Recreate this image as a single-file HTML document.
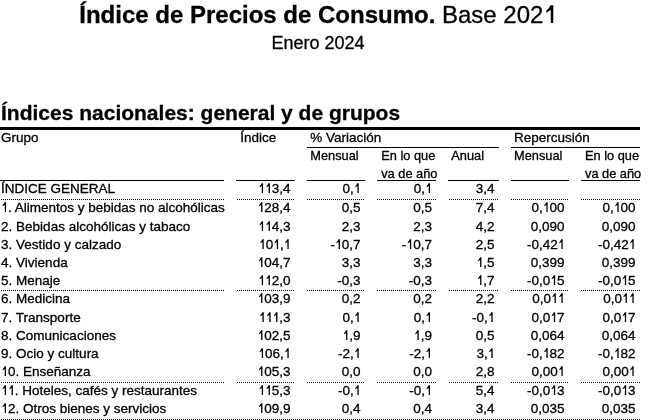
<!DOCTYPE html>
<html><head><meta charset="utf-8"><style>
html,body{margin:0;padding:0;background:#fff;width:651px;height:420px;overflow:hidden;position:relative}
#w{position:absolute;left:0;top:0;width:651px;height:420px;will-change:transform}
body{font-family:"Liberation Sans",sans-serif;color:#000}
#w div{-webkit-text-stroke:0.3px #000}
.t{position:absolute;font-size:13.5px;line-height:20px;white-space:nowrap}
.r{text-align:right}

.o{display:inline-block;position:relative;width:0.507em;color:transparent;-webkit-text-stroke:0 transparent!important;font-style:normal}
.o::after{content:"";position:absolute;left:0;right:0;bottom:6px;height:0.716em;background:#000;clip-path:polygon(72% 0%,72% 100%,53% 100%,53% 28%,22% 41%,22% 29%,40% 15%,52% 0%)}
.o2{width:0.556em}
.o2::after{height:0.74em;bottom:7px;clip-path:polygon(74% 0%,74% 100%,55% 100%,55% 27%,22% 42%,22% 30%,42% 15%,53% 0%)}
.s{font-size:12.8px}
.ln{position:absolute;background:#000}
.dt{position:absolute;height:1px;background:repeating-linear-gradient(to right,transparent 0,transparent 1px,#000 1px,#000 2px)}
.do{background:repeating-linear-gradient(to right,#000 0,#000 1px,transparent 1px,transparent 2px)}
.title{position:absolute;left:0;width:636px;top:0;text-align:center;font-size:24px;line-height:30px;white-space:nowrap}
.sub{position:absolute;left:0;width:636px;top:28px;text-align:center;font-size:18px;line-height:30px;white-space:nowrap}
.h2{position:absolute;left:1px;top:98px;font-size:21px;font-weight:bold;line-height:30px;white-space:nowrap}
</style></head>
<body><div id="w">
<div class="title"><b>Índice de Precios de Consumo.</b> Base 202<i class="o o2">1</i></div>
<div class="sub">Enero 2024</div>
<div class="h2">Índices nacionales: general y de grupos</div>
<div class="ln" style="left:0px;top:127px;width:640px;height:3px"></div>
<div class="t" style="left:1.1px;top:128px">Grupo</div>
<div class="t" style="left:240.2px;top:128px">Índice</div>
<div class="t" style="left:310.3px;top:128px">% Variación</div>
<div class="t" style="left:514px;top:128px">Repercusión</div>
<div class="ln" style="left:307px;top:147px;width:192px;height:1px"></div>
<div class="ln" style="left:511px;top:147px;width:129px;height:1px"></div>
<div class="t s" style="left:310.3px;top:146px">Mensual</div>
<div class="t s" style="left:381.2px;top:146px">En lo que</div>
<div class="t s" style="left:381.2px;top:164px">va de año</div>
<div class="t s" style="left:451.3px;top:146px">Anual</div>
<div class="t s" style="left:514px;top:146px">Mensual</div>
<div class="t s" style="left:585px;top:146px">En lo que</div>
<div class="t s" style="left:585px;top:164px">va de año</div>
<div class="ln" style="left:0px;top:180px;width:224px;height:1px"></div>
<div class="ln" style="left:236px;top:180px;width:59px;height:1px"></div>
<div class="ln" style="left:307px;top:180px;width:58px;height:1px"></div>
<div class="ln" style="left:377px;top:180px;width:59px;height:1px"></div>
<div class="ln" style="left:448px;top:180px;width:51px;height:1px"></div>
<div class="ln" style="left:511px;top:180px;width:58px;height:1px"></div>
<div class="ln" style="left:581px;top:180px;width:59px;height:1px"></div>
<div class="t" style="left:1.1px;top:179px">ÍNDICE GENERAL</div>
<div class="t r" style="right:360.4px;top:179px"><i class="o">1</i><i class="o">1</i>3,4</div>
<div class="t r" style="right:290.4px;top:179px">0,<i class="o">1</i></div>
<div class="t r" style="right:219.1px;top:179px">0,<i class="o">1</i></div>
<div class="t r" style="right:156.4px;top:179px">3,4</div>
<div class="dt" style="left:0px;top:199px;width:224px"></div>
<div class="dt" style="left:236px;top:199px;width:59px"></div>
<div class="dt do" style="left:307px;top:199px;width:58px"></div>
<div class="dt do" style="left:377px;top:199px;width:59px"></div>
<div class="dt" style="left:448px;top:199px;width:51px"></div>
<div class="dt do" style="left:511px;top:199px;width:58px"></div>
<div class="dt do" style="left:581px;top:199px;width:59px"></div>
<div class="t" style="left:1.1px;top:198px"><i class="o">1</i>. Alimentos y bebidas no alcohólicas</div>
<div class="t r" style="right:360.4px;top:198px"><i class="o">1</i>28,4</div>
<div class="t r" style="right:290.4px;top:198px">0,5</div>
<div class="t r" style="right:219.1px;top:198px">0,5</div>
<div class="t r" style="right:156.4px;top:198px">7,4</div>
<div class="t r" style="right:86.4px;top:198px">0,<i class="o">1</i>00</div>
<div class="t r" style="right:15.4px;top:198px">0,<i class="o">1</i>00</div>
<div class="t" style="left:1.1px;top:217px">2. Bebidas alcohólicas y tabaco</div>
<div class="t r" style="right:360.4px;top:217px"><i class="o">1</i><i class="o">1</i>4,3</div>
<div class="t r" style="right:290.4px;top:217px">2,3</div>
<div class="t r" style="right:219.1px;top:217px">2,3</div>
<div class="t r" style="right:156.4px;top:217px">4,2</div>
<div class="t r" style="right:86.4px;top:217px">0,090</div>
<div class="t r" style="right:15.4px;top:217px">0,090</div>
<div class="t" style="left:1.1px;top:235px">3. Vestido y calzado</div>
<div class="t r" style="right:360.4px;top:235px"><i class="o">1</i>0<i class="o">1</i>,<i class="o">1</i></div>
<div class="t r" style="right:290.4px;top:235px">-<i class="o">1</i>0,7</div>
<div class="t r" style="right:219.1px;top:235px">-<i class="o">1</i>0,7</div>
<div class="t r" style="right:156.4px;top:235px">2,5</div>
<div class="t r" style="right:86.4px;top:235px">-0,42<i class="o">1</i></div>
<div class="t r" style="right:15.4px;top:235px">-0,42<i class="o">1</i></div>
<div class="t" style="left:1.1px;top:253px">4. Vivienda</div>
<div class="t r" style="right:360.4px;top:253px"><i class="o">1</i>04,7</div>
<div class="t r" style="right:290.4px;top:253px">3,3</div>
<div class="t r" style="right:219.1px;top:253px">3,3</div>
<div class="t r" style="right:156.4px;top:253px"><i class="o">1</i>,5</div>
<div class="t r" style="right:86.4px;top:253px">0,399</div>
<div class="t r" style="right:15.4px;top:253px">0,399</div>
<div class="t" style="left:1.1px;top:271px">5. Menaje</div>
<div class="t r" style="right:360.4px;top:271px"><i class="o">1</i><i class="o">1</i>2,0</div>
<div class="t r" style="right:290.4px;top:271px">-0,3</div>
<div class="t r" style="right:219.1px;top:271px">-0,3</div>
<div class="t r" style="right:156.4px;top:271px"><i class="o">1</i>,7</div>
<div class="t r" style="right:86.4px;top:271px">-0,0<i class="o">1</i>5</div>
<div class="t r" style="right:15.4px;top:271px">-0,0<i class="o">1</i>5</div>
<div class="dt" style="left:0px;top:290px;width:224px"></div>
<div class="dt" style="left:236px;top:290px;width:59px"></div>
<div class="dt do" style="left:307px;top:290px;width:58px"></div>
<div class="dt do" style="left:377px;top:290px;width:59px"></div>
<div class="dt" style="left:448px;top:290px;width:51px"></div>
<div class="dt do" style="left:511px;top:290px;width:58px"></div>
<div class="dt do" style="left:581px;top:290px;width:59px"></div>
<div class="t" style="left:1.1px;top:289px">6. Medicina</div>
<div class="t r" style="right:360.4px;top:289px"><i class="o">1</i>03,9</div>
<div class="t r" style="right:290.4px;top:289px">0,2</div>
<div class="t r" style="right:219.1px;top:289px">0,2</div>
<div class="t r" style="right:156.4px;top:289px">2,2</div>
<div class="t r" style="right:86.4px;top:289px">0,0<i class="o">1</i><i class="o">1</i></div>
<div class="t r" style="right:15.4px;top:289px">0,0<i class="o">1</i><i class="o">1</i></div>
<div class="t" style="left:1.1px;top:308px">7. Transporte</div>
<div class="t r" style="right:360.4px;top:308px"><i class="o">1</i><i class="o">1</i><i class="o">1</i>,3</div>
<div class="t r" style="right:290.4px;top:308px">0,<i class="o">1</i></div>
<div class="t r" style="right:219.1px;top:308px">0,<i class="o">1</i></div>
<div class="t r" style="right:156.4px;top:308px">-0,<i class="o">1</i></div>
<div class="t r" style="right:86.4px;top:308px">0,0<i class="o">1</i>7</div>
<div class="t r" style="right:15.4px;top:308px">0,0<i class="o">1</i>7</div>
<div class="t" style="left:1.1px;top:326px">8. Comunicaciones</div>
<div class="t r" style="right:360.4px;top:326px"><i class="o">1</i>02,5</div>
<div class="t r" style="right:290.4px;top:326px"><i class="o">1</i>,9</div>
<div class="t r" style="right:219.1px;top:326px"><i class="o">1</i>,9</div>
<div class="t r" style="right:156.4px;top:326px">0,5</div>
<div class="t r" style="right:86.4px;top:326px">0,064</div>
<div class="t r" style="right:15.4px;top:326px">0,064</div>
<div class="t" style="left:1.1px;top:344px">9. Ocio y cultura</div>
<div class="t r" style="right:360.4px;top:344px"><i class="o">1</i>06,<i class="o">1</i></div>
<div class="t r" style="right:290.4px;top:344px">-2,<i class="o">1</i></div>
<div class="t r" style="right:219.1px;top:344px">-2,<i class="o">1</i></div>
<div class="t r" style="right:156.4px;top:344px">3,<i class="o">1</i></div>
<div class="t r" style="right:86.4px;top:344px">-0,<i class="o">1</i>82</div>
<div class="t r" style="right:15.4px;top:344px">-0,<i class="o">1</i>82</div>
<div class="t" style="left:1.1px;top:362px"><i class="o">1</i>0. Enseñanza</div>
<div class="t r" style="right:360.4px;top:362px"><i class="o">1</i>05,3</div>
<div class="t r" style="right:290.4px;top:362px">0,0</div>
<div class="t r" style="right:219.1px;top:362px">0,0</div>
<div class="t r" style="right:156.4px;top:362px">2,8</div>
<div class="t r" style="right:86.4px;top:362px">0,00<i class="o">1</i></div>
<div class="t r" style="right:15.4px;top:362px">0,00<i class="o">1</i></div>
<div class="dt" style="left:0px;top:382px;width:224px"></div>
<div class="dt" style="left:236px;top:382px;width:59px"></div>
<div class="dt do" style="left:307px;top:382px;width:58px"></div>
<div class="dt do" style="left:377px;top:382px;width:59px"></div>
<div class="dt" style="left:448px;top:382px;width:51px"></div>
<div class="dt do" style="left:511px;top:382px;width:58px"></div>
<div class="dt do" style="left:581px;top:382px;width:59px"></div>
<div class="t" style="left:1.1px;top:381px"><i class="o">1</i><i class="o">1</i>. Hoteles, cafés y restaurantes</div>
<div class="t r" style="right:360.4px;top:381px"><i class="o">1</i><i class="o">1</i>5,3</div>
<div class="t r" style="right:290.4px;top:381px">-0,<i class="o">1</i></div>
<div class="t r" style="right:219.1px;top:381px">-0,<i class="o">1</i></div>
<div class="t r" style="right:156.4px;top:381px">5,4</div>
<div class="t r" style="right:86.4px;top:381px">-0,0<i class="o">1</i>3</div>
<div class="t r" style="right:15.4px;top:381px">-0,0<i class="o">1</i>3</div>
<div class="t" style="left:1.1px;top:399px"><i class="o">1</i>2. Otros bienes y servicios</div>
<div class="t r" style="right:360.4px;top:399px"><i class="o">1</i>09,9</div>
<div class="t r" style="right:290.4px;top:399px">0,4</div>
<div class="t r" style="right:219.1px;top:399px">0,4</div>
<div class="t r" style="right:156.4px;top:399px">3,4</div>
<div class="t r" style="right:86.4px;top:399px">0,035</div>
<div class="t r" style="right:15.4px;top:399px">0,035</div>
<div class="dt" style="left:0px;top:419px;width:640px"></div>
</div></body></html>
